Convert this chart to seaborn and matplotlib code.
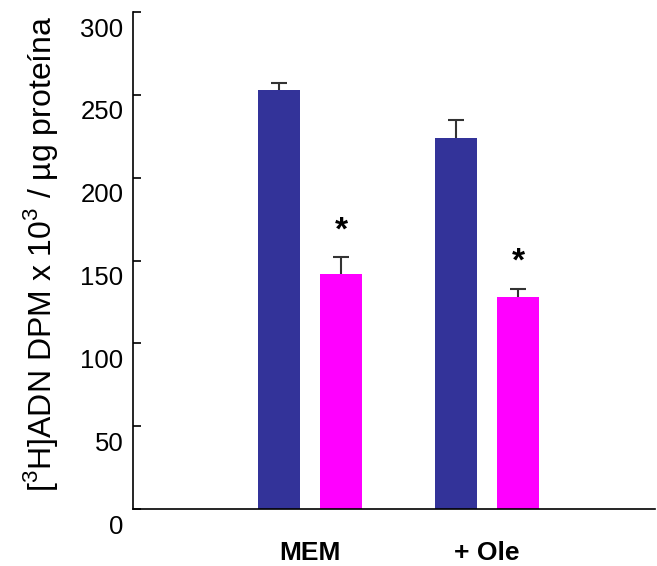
import seaborn as sns
import matplotlib.pyplot as plt
import matplotlib.transforms as mtransforms
import pandas as pd

# Data
grupos = ["MEM", "+ Ole"]
series = ["Control", "Tratado"]
valores_control = [253, 224]
valores_tratado = [142, 128]
error_control = [4, 11]
error_tratado = [10, 5]
colores = ["#333399", "#FF00FF"]

df = pd.DataFrame({
    "grupo": grupos * 2,
    "serie": [series[0]] * 2 + [series[1]] * 2,
    "valor": valores_control + valores_tratado,
})

sns.set_style("white")
plt.rcParams["font.family"] = ["Liberation Sans", "DejaVu Sans"]
plt.rcParams["mathtext.fontset"] = "custom"
plt.rcParams["mathtext.rm"] = "Liberation Sans"

fig = plt.figure(figsize=(6.57, 5.66), dpi=100)
ax = fig.add_axes([0.2024, 0.1007, 0.795, 0.878])

sns.barplot(
    data=df, x="grupo", y="valor", hue="serie",
    palette=colores, saturation=1, width=0.7, gap=0.32,
    errorbar=None, legend=False, linewidth=0, ax=ax,
)

# upper-only error bars and significance marks
for container, errs, star in zip(ax.containers, [error_control, error_tratado], [False, True]):
    for bar, e in zip(container, errs):
        cx = bar.get_x() + bar.get_width() / 2
        h = bar.get_height()
        _, caps, _ = ax.errorbar(cx, h, yerr=[[0], [e]], fmt="none", ecolor="#333333",
                                 elinewidth=1.5, capsize=5.5, capthick=1.5)
        caps[0].set_visible(False)
        if star:
            ax.text(cx, h + e + 16, "*", ha="center", va="center",
                    fontsize=24, fontweight="bold", color="black")

ax.set_ylim(0, 300)
ax.set_xlim(-1.0, 1.95)
ax.set_yticks(range(0, 301, 50))
ax.set_xlabel("")
ax.set_ylabel(r"[$^3$H]ADN DPM x 10$^3$ / µg proteína", fontsize=23, color="black")
ax.yaxis.set_label_coords(-0.14, 0.514)

ax.tick_params(axis="y", direction="in", length=6, width=1.2, labelsize=18.5, pad=7,
               left=True, colors="black")
ax.tick_params(axis="x", length=0, labelsize=19, pad=23, labelcolor="black")
for lbl in ax.get_xticklabels():
    lbl.set_fontweight("bold")

# tick labels in the reference sit a little below their ticks
shift = mtransforms.ScaledTranslation(0, -0.15, fig.dpi_scale_trans)
for lbl in ax.get_yticklabels():
    lbl.set_transform(lbl.get_transform() + shift)

sns.despine(ax=ax)
for s in ["left", "bottom"]:
    ax.spines[s].set_color("black")
    ax.spines[s].set_linewidth(1.2)

fig.savefig("out.png", dpi=100)
